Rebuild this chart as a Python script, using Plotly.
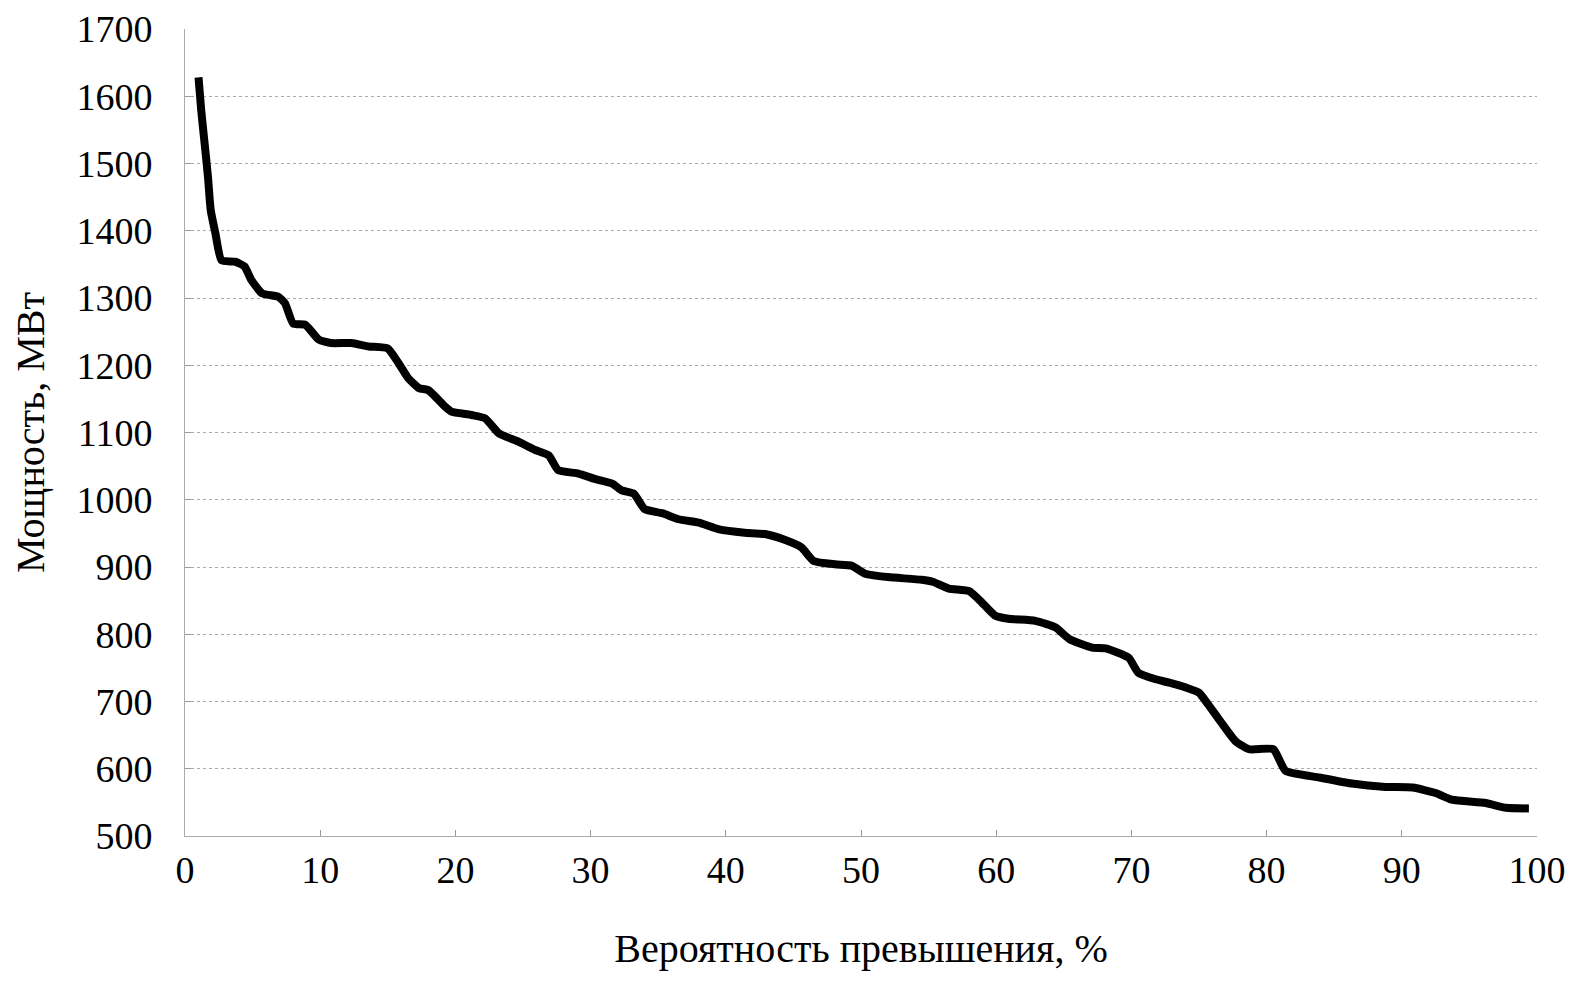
import plotly.graph_objects as go

prob_pct = [1.0, 1.2, 1.45, 1.7, 1.9, 2.25, 2.7, 3.7, 4.4, 4.9, 5.7, 6.9, 7.4, 8.0, 8.9, 9.9,
            10.8, 12.3, 13.6, 15.0, 15.8, 16.5, 17.3, 18.0, 19.2, 19.7, 21.2, 22.2, 23.2, 24.7,
            25.9, 26.9, 27.6, 29.1, 30.3, 31.6, 32.3, 33.2, 34.0, 35.3, 36.5, 38.0, 39.5, 41.4,
            42.9, 44.4, 45.6, 46.5, 48.1, 49.3, 50.3, 52.0, 54.5, 55.3, 56.5, 58.0, 58.9, 59.9,
            60.9, 62.9, 64.4, 65.4, 67.1, 68.1, 69.8, 70.5, 71.8, 72.8, 74.0, 75.0, 75.7, 76.6,
            77.7, 78.7, 80.5, 81.4, 83.9, 86.3, 88.8, 90.8, 92.5, 93.7, 96.2, 97.7, 99.4]
power_mw = [1628, 1579, 1530, 1480, 1431, 1396, 1356, 1354, 1347, 1327, 1307, 1302, 1292, 1262,
            1260, 1238, 1233, 1233, 1228, 1225, 1203, 1181, 1166, 1163, 1139, 1131, 1126, 1121,
            1099, 1086, 1074, 1066, 1044, 1039, 1031, 1024, 1014, 1009, 986, 980, 971, 966, 956,
            951, 949, 940, 929, 909, 904, 902, 890, 885, 881, 878, 868, 864, 848, 828, 823, 820,
            810, 793, 780, 779, 765, 743, 733, 728, 721, 713, 695, 670, 641, 629, 629, 597, 587,
            578, 573, 572, 564, 554, 549, 542, 541]

x_ticks = [0, 10, 20, 30, 40, 50, 60, 70, 80, 90, 100]
y_ticks = [500, 600, 700, 800, 900, 1000, 1100, 1200, 1300, 1400, 1500, 1600, 1700]

FONT = "Liberation Serif, Times New Roman, serif"

fig = go.Figure()
fig.add_trace(go.Scatter(
    x=prob_pct, y=power_mw, mode="lines",
    line=dict(color="black", width=8, shape="spline", smoothing=0.5),
    showlegend=False, hoverinfo="skip",
))

# page body adds an 8px margin, so the figure is sized to fit inside the window
fig.update_layout(
    width=1566, height=966,
    margin=dict(l=177, r=37, t=21, b=138),
    paper_bgcolor="white", plot_bgcolor="white",
    font=dict(family=FONT, color="black", size=38),
)
fig.update_xaxes(
    range=[0, 100], tickvals=x_ticks, ticktext=[str(v) for v in x_ticks],
    automargin=False,
    showgrid=False, zeroline=False,
    showline=True, linecolor="#aaaaaa", linewidth=1,
    ticks="inside", ticklen=6, tickcolor="#999999", tickwidth=1,
    ticklabelstandoff=0,
    title=dict(text="Вероятность превышения, %", font=dict(family=FONT, size=40), standoff=44),
)
fig.update_yaxes(
    range=[500, 1700], tickvals=y_ticks, ticktext=[str(v) for v in y_ticks],
    automargin=False,
    showgrid=True, gridcolor="#aaaaaa", gridwidth=1, griddash="dot",
    zeroline=False,
    showline=True, linecolor="#aaaaaa", linewidth=1,
    ticks="inside", ticklen=6, tickcolor="#999999", tickwidth=1,
    ticklabelstandoff=24,
    title=dict(text="Мощность, МВт", font=dict(family=FONT, size=40), standoff=22),
)

fig.write_html("out.html")
